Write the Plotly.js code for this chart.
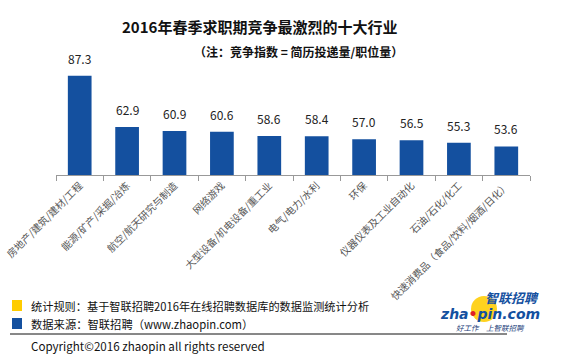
<!DOCTYPE html>
<html><head><meta charset="utf-8">
<script src="https://cdn.plot.ly/plotly-3.0.1.min.js"></script>
<style>html,body{margin:0;padding:0;background:#fff}#c{width:564px;height:357px}</style>
</head><body><div id="c"></div>
<script>
const categories = ["房地产/建筑/建材/工程","能源/矿产/采掘/冶炼","航空/航天研究与制造","网络游戏","大型设备/机电设备/重工业","电气/电力/水利","环保","仪器仪表及工业自动化","石油/石化/化工","快速消费品（食品/饮料/烟酒/日化）"];
const values = [87.3, 62.9, 60.9, 60.6, 58.6, 58.4, 57.0, 56.5, 55.3, 53.6];
const titleText = "2016年春季求职期竞争最激烈的十大行业";
const subtitleText = "（注：竞争指数 = 简历投递量/职位量）";
const note1 = "统计规则：基于智联招聘2016年在线招聘数据库的数据监测统计分析";
const note2 = "数据来源：智联招聘（www.zhaopin.com）";
const copyright = "Copyright©2016 zhaopin all rights reserved";

const W=564,H=357,L=56,R=34,T=70,B=182;
const pw=W-L-R, ph=H-T-B;
const px=x=>(x-L)/pw, py=y=>(H-B-y)/ph;
const F="Noto Sans CJK SC, Microsoft YaHei, sans-serif";
const blue="#14509f";

function note(x,y,text,font,xa){return {xref:'paper',yref:'paper',x:px(x),y:py(y),xanchor:xa||'center',yanchor:'middle',text:text,showarrow:false,font:font,borderpad:0};}

const ann = values.map((v,i)=>({x:categories[i],y:v,xref:'x',yref:'y',text:v.toFixed(1),showarrow:false,xanchor:'center',yanchor:'bottom',yshift:7,font:{family:F,size:12,color:'#222'}}));
ann.push(
 note(259,27,'<b>'+titleText+'</b>',{family:F,size:15,color:'#111'}),
 note(298,52,'<b>'+subtitleText+'</b>',{family:F,size:12,color:'#111'}),
 note(30,306,note1,{family:F,size:11.2,color:'#111'},'left'),
 note(30,324,note2,{family:F,size:11.3,color:'#111'},'left'),
 note(30,346,copyright,{family:F,size:11.6,color:'#111'},'left'),
 note(512,297,'<b><i>智联招聘</i></b>',{family:F,size:13,color:blue}),
 note(490,314,'<b><i>zha<span style="color:#e0202a">•</span>pin.com</i></b>',{family:'DejaVu Sans, sans-serif',size:14,color:blue}),
 note(490,327,'<i>好工作　上智联招聘</i>',{family:F,size:7.5,color:'#1a3d7a'})
);

const shapes=[
 {type:'rect',xref:'paper',yref:'paper',x0:px(12),x1:px(22),y0:py(311),y1:py(300),fillcolor:'#ffcc00',line:{width:0}},
 {type:'rect',xref:'paper',yref:'paper',x0:px(12),x1:px(22),y0:py(329),y1:py(318),fillcolor:blue,line:{width:0}},
 {type:'line',xref:'paper',yref:'paper',x0:px(10),x1:px(507),y0:py(334),y1:py(334),line:{color:'#111',width:1}},
 {type:'circle',xref:'paper',yref:'paper',x0:px(471),x1:px(497),y0:py(322),y1:py(296),fillcolor:'#ffd21f',line:{width:0},layer:'below'}
];

const trace={type:'bar',x:categories,y:values,marker:{color:blue},width:0.5,hoverinfo:'none'};
const layout={
 width:W,height:H,margin:{l:L,r:R,t:T,b:B},paper_bgcolor:'#fff',plot_bgcolor:'#fff',showlegend:false,
 xaxis:{type:'category',showline:true,linecolor:'#999',linewidth:1,ticks:'outside',tickson:'boundaries',ticklen:5,tickcolor:'#999',tickangle:-45,tickfont:{family:F,size:10,color:'#555'},showgrid:false,automargin:false},
 yaxis:{range:[40,90],visible:false,fixedrange:true},
 annotations:ann,shapes:shapes
};
Plotly.newPlot('c',[trace],layout,{staticPlot:true});
</script></body></html>
